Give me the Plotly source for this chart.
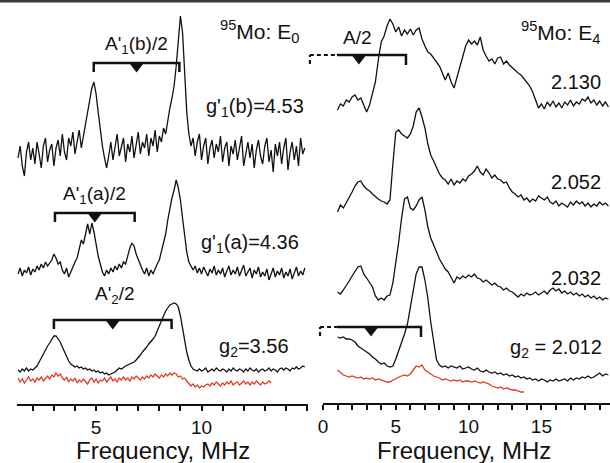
import plotly.graph_objects as go

# ---------------- data (heights in arbitrary stacked units) ----------------
# Left panel (95Mo: E0), sampled every 0.1 MHz
left_f0, left_step = 1.3, 0.1
left_b = [246, 258, 238, 228, 252, 262, 244, 256,
          240, 262, 250, 236, 258, 266, 242, 254, 260, 238,
          256, 264, 248, 270, 252, 244, 266, 258, 272, 250,
          262, 274, 256, 268,
          278, 292, 306, 316, 322, 310,
          292, 274, 258, 246, 236, 248,
          262, 244, 256, 270, 248, 258, 266, 242, 260, 252,
          268, 246, 258, 272, 250, 262, 256, 270, 248, 266,
          258, 274, 252, 268, 262, 276,
          270, 284, 296, 306, 318, 338, 362,
          388, 372, 328, 292, 270, 258, 266,
          248, 262, 270, 244, 258, 266, 240, 256, 264, 246,
          260, 252, 268, 242, 256, 262, 238, 258, 250, 264,
          244, 256, 268, 238, 252, 262, 246, 260, 236, 254,
          264, 248, 240, 258, 266, 242, 254, 232, 260, 248,
          262, 240, 256, 266, 234, 252, 262, 244, 258, 238, 266, 250, 256]
left_a = [130, 136, 128, 134, 131, 137, 129, 135,
          132, 138, 134, 140, 136, 142, 138, 141,
          144, 150, 146, 140, 142, 134, 130, 136, 127, 132,
          138, 142, 146, 156, 164, 160, 170, 180, 170, 181,
          172, 158, 148, 140, 132, 128, 134, 130, 136, 132,
          138, 134, 140, 136, 142, 140, 148, 156, 161, 158,
          150, 144, 138, 134, 130, 136, 128, 134, 130, 136,
          140, 144, 152, 160, 170, 184, 196, 206, 214, 224,
          216, 204, 186, 168, 152, 142, 138, 134, 138, 131,
          136, 130, 137, 132, 128, 135, 131, 138, 129, 134,
          130, 136, 127, 133, 138, 129, 134, 130, 137, 128,
          133, 139, 128, 132, 136, 126, 134, 130, 137, 127,
          132, 128, 135, 124, 131, 136, 127, 133, 129, 136,
          126, 132, 128, 135, 125, 131, 137, 128, 133, 129, 136]
left_g2 = [34, 32, 35, 33, 36, 33, 35, 34,
           36, 38, 42, 46, 51, 55, 58, 61,
           64, 68, 68, 65, 62, 57, 52, 48, 43, 40,
           38, 37, 38, 36, 37, 35, 36, 34, 35, 33,
           34, 32, 33, 31, 32, 30, 31, 29, 30, 31,
           32, 34, 36, 35, 37, 38, 39, 40, 41, 42,
           44, 46, 49, 52, 54, 57, 60, 62, 65, 68,
           73, 77, 82, 88, 93, 96, 99, 100, 101, 100,
           97, 88, 76, 62, 52, 44, 38, 35, 34, 33,
           35, 33, 34, 36, 32, 34, 35, 33, 36, 34,
           33, 35, 34, 32, 35, 33, 36, 34, 33, 35,
           34, 32, 35, 33, 36, 34, 33, 35, 32, 34,
           35, 33, 34, 36, 33, 35, 34, 32, 35, 36,
           34, 36, 35, 33, 36, 35, 37, 35, 36, 38, 37]
left_red = [26, 22, 25, 21, 24, 27, 23, 25, 22, 26,
            24, 27, 23, 26, 28, 25, 29, 27, 31, 28,
            30, 26, 24, 27, 22, 25, 23, 26, 21, 24,
            22, 25, 23, 20, 24, 26, 22, 25, 21, 24,
            23, 26, 22, 24, 27, 23, 25, 22, 26, 24,
            27, 24, 26, 23, 27, 25, 28, 26, 24, 27,
            25, 28, 26, 29, 27, 30, 28, 26, 29, 27,
            30, 28, 31, 29, 31, 30, 27, 28, 25, 26,
            23, 21, 18, 20, 17, 19, 16, 18, 17, 19,
            20, 18, 21, 19, 22, 20, 18, 21, 19, 22,
            20, 23, 19, 21, 22, 19, 21, 23, 20, 22,
            19, 22, 20, 23, 21, 19, 22, 20, 21, 23, 21]

# Right panel (95Mo: E4), sampled every 0.2 MHz
right_f0, right_step = 1.0, 0.2
right_2130 = [294, 300, 298, 304, 302, 307, 309, 304, 306, 299, 292, 299, 310, 322, 344,
              362, 368, 378, 385, 380, 372, 377, 368, 374, 370, 375, 369, 374, 376, 365,
              358, 352, 350, 346, 343, 338, 331, 324, 331, 322, 316, 326, 336, 346, 358,
              364, 360, 363, 359, 367, 354, 348, 343, 345, 340, 346, 347, 340, 343, 339,
              336, 334, 331, 329, 325, 322, 318, 312, 303, 296, 300, 295, 302, 298, 303,
              297, 301, 296, 302, 299, 304, 298, 302, 300, 305, 303, 307, 301, 304, 299,
              303, 298, 302, 297]
right_2052 = [192, 199, 196, 201, 206, 212, 218, 222, 223, 218, 215, 213, 210, 207, 205,
              203, 202, 200, 204, 240, 272, 274, 270, 268, 266, 270, 278, 292, 296, 287,
              276, 260, 249, 243, 237, 230, 226, 224, 220, 225, 219, 223, 221, 225, 223,
              228, 230, 233, 238, 232, 229, 235, 231, 226, 229, 225, 224, 221, 222, 216,
              212, 210, 207, 209, 204, 206, 202, 205, 203, 208, 206, 204, 207, 202, 200,
              203, 198, 201, 199, 197, 202, 199, 203, 200, 202, 198, 201, 197, 200, 198,
              202, 199, 201, 198]
right_2032 = [112, 110, 114, 118, 123, 128, 132, 137, 138, 130, 126, 122, 117, 108, 104,
              106, 104, 108, 109, 121, 140, 162, 186, 205, 207, 196, 194, 198, 204, 207,
              194, 177, 166, 159, 151, 145, 140, 135, 132, 126, 121, 127, 125, 128, 126,
              129, 127, 130, 126, 125, 122, 124, 121, 119, 121, 118, 117, 114, 116, 113,
              112, 109, 107, 110, 108, 111, 109, 110, 112, 109, 111, 113, 110, 114, 116,
              113, 115, 111, 113, 110, 112, 109, 111, 108, 110, 107, 109, 106, 108, 105,
              107, 104, 106, 105]
right_2012 = [67, 66, 67, 65, 65, 64, 62, 58, 56, 54, 52, 50, 47, 45, 42,
              40, 41, 38, 37, 38, 45, 53, 61, 70, 80, 97, 114, 130, 137, 137,
              124, 106, 82, 61, 44, 39, 37, 38, 36, 38, 37, 36, 38, 35, 36,
              37, 35, 34, 36, 33, 32, 34, 32, 31, 32, 30, 31, 29, 30, 28,
              29, 27, 28, 26, 27, 25, 26, 24, 25, 23, 25, 24, 22, 24, 23,
              25, 23, 24, 25, 23, 26, 24, 26, 25, 27, 26, 28, 26, 27, 29,
              31, 28, 30, 29]
right_red = [34, 31, 29, 28, 27, 28, 27, 26, 27, 25, 26, 25, 26, 24, 25,
             24, 23, 22, 22, 24, 25, 27, 28, 29, 28, 30, 34, 38, 37, 39,
             34, 32, 30, 28, 27, 26, 24, 25, 24, 23, 24, 23, 24, 22, 23,
             23, 22, 23, 22, 21, 22, 21, 20, 18, 17, 16, 17, 15, 16, 15,
             14, 14, 13, 12, 12]

# Hyperfine brackets: (left end, right end, marker position, height)
left_brackets = [(4.89, 8.95, 6.92, 341), (3.05, 6.83, 4.94, 191), (3.0, 8.58, 5.79, 84)]
right_brackets = [(-0.9, 0.96, 5.7, 2.47, 349), (-0.2, 0.96, 6.73, 3.3, 77)]

left_major = [5, 10]
left_minor = list(range(2, 16))
right_major = [0, 5, 10, 15]
right_minor = list(range(0, 20))

FONT = "Liberation Sans, Arial, sans-serif"
BLACK = "#111111"
RED = "#e2391f"


def grid(f0, step, vals):
    return [round(f0 + i * step, 3) for i in range(len(vals))]


fig = go.Figure()

for vals in (left_b, left_a, left_g2):
    fig.add_trace(go.Scatter(x=grid(left_f0, left_step, vals), y=vals, mode="lines",
                             line=dict(color=BLACK, width=1.3), xaxis="x", yaxis="y",
                             showlegend=False, hoverinfo="skip"))
fig.add_trace(go.Scatter(x=grid(left_f0, left_step, left_red), y=left_red, mode="lines",
                         line=dict(color=RED, width=1.3), xaxis="x", yaxis="y",
                         showlegend=False, hoverinfo="skip"))

for vals in (right_2130, right_2052, right_2032, right_2012):
    fig.add_trace(go.Scatter(x=grid(right_f0, right_step, vals), y=vals, mode="lines",
                             line=dict(color=BLACK, width=1.3), xaxis="x2", yaxis="y2",
                             showlegend=False, hoverinfo="skip"))
fig.add_trace(go.Scatter(x=grid(right_f0, right_step, right_red), y=right_red, mode="lines",
                         line=dict(color=RED, width=1.3), xaxis="x2", yaxis="y2",
                         showlegend=False, hoverinfo="skip"))

TICK = 9
for x0, x1, xm, h in left_brackets:
    fig.add_trace(go.Scatter(x=[x0, x0, x1, x1], y=[h - TICK, h, h, h - TICK], mode="lines",
                             line=dict(color=BLACK, width=2.5), xaxis="x", yaxis="y",
                             showlegend=False, hoverinfo="skip"))
    fig.add_trace(go.Scatter(x=[xm], y=[h - 3], mode="markers",
                             marker=dict(symbol="triangle-down", size=13, color=BLACK),
                             xaxis="x", yaxis="y", showlegend=False, hoverinfo="skip"))
for xd, xs, x1, xm, h in right_brackets:
    fig.add_trace(go.Scatter(x=[xd, xd, None, xd, xs], y=[h - TICK, h, None, h, h], mode="lines",
                             line=dict(color=BLACK, width=2.2, dash="4px,3px"), xaxis="x2", yaxis="y2",
                             showlegend=False, hoverinfo="skip"))
    fig.add_trace(go.Scatter(x=[xs, x1, x1], y=[h, h, h - TICK - 1], mode="lines",
                             line=dict(color=BLACK, width=2.5), xaxis="x2", yaxis="y2",
                             showlegend=False, hoverinfo="skip"))
    fig.add_trace(go.Scatter(x=[xm], y=[h - 3], mode="markers",
                             marker=dict(symbol="triangle-down", size=13, color=BLACK),
                             xaxis="x2", yaxis="y2", showlegend=False, hoverinfo="skip"))

ydom = [59 / 463, 1.0]
axis_common = dict(ticks="outside", ticklen=5, tickwidth=1.5, tickcolor=BLACK,
                   showgrid=False, zeroline=False,
                   tickfont=dict(family=FONT, size=19, color=BLACK))
fig.update_layout(
    width=610, height=463, margin=dict(l=0, r=0, t=0, b=0),
    paper_bgcolor="white", plot_bgcolor="white",
    xaxis=dict(domain=[17 / 610, 308 / 610], range=[1.25, 15.05], anchor="y",
               showline=True, linecolor=BLACK, linewidth=2,
               tickmode="array", tickvals=left_major,
               minor=dict(tickvals=left_minor, ticks="outside", ticklen=5, tickwidth=1.5,
                          tickcolor=BLACK),
               **axis_common),
    xaxis2=dict(domain=[308.4 / 610, 1.0], range=[-1.0, 19.71], anchor="y2",
                showline=False,
                tickmode="array", tickvals=right_major,
                minor=dict(tickvals=right_minor, ticks="outside", ticklen=5, tickwidth=1.5,
                           tickcolor=BLACK),
                **axis_common),
    yaxis=dict(domain=ydom, range=[0, 404], visible=False, anchor="x"),
    yaxis2=dict(domain=ydom, range=[0, 404], visible=False, anchor="x2"),
)

# right-panel axis line starting at 0 MHz
fig.add_shape(type="line", xref="x2", yref="paper", x0=0, x1=19.71,
              y0=59 / 463, y1=59 / 463, line=dict(color=BLACK, width=2))
# top border
fig.add_shape(type="line", xref="paper", yref="paper", x0=0, x1=1, y0=1 - 1.2 / 463,
              y1=1 - 1.2 / 463, line=dict(color="#3a3a3a", width=2.5))

def txt(text, x, y, xa, ya, size=20, anchor="center"):
    fig.add_annotation(text=text, x=x, y=y, xref=xa, yref=ya, showarrow=False,
                       xanchor=anchor, yanchor="middle",
                       font=dict(family=FONT, size=size, color=BLACK))

txt("<sup>95</sup>Mo: E<sub>0</sub>", 14.72, 373, "x", "y", 21, "right")
txt("A'<sub>1</sub>(b)/2", 6.92, 359, "x", "y", 19)
txt("g'<sub>1</sub>(b)=4.53", 14.95, 297, "x", "y", 20, "right")
txt("A'<sub>1</sub>(a)/2", 4.94, 209, "x", "y", 19)
txt("g'<sub>1</sub>(a)=4.36", 14.72, 161, "x", "y", 20, "right")
txt("A'<sub>2</sub>/2", 5.88, 109, "x", "y", 19)
txt("g<sub>2</sub>=3.56", 14.25, 57, "x", "y", 20, "right")

txt("<sup>95</sup>Mo: E<sub>4</sub>", 19.16, 372, "x2", "y2", 21, "right")
txt("A/2", 2.4, 367, "x2", "y2", 19)
txt("2.130", 19.23, 322, "x2", "y2", 20, "right")
txt("2.052", 19.23, 222, "x2", "y2", 20, "right")
txt("2.032", 19.23, 126, "x2", "y2", 20, "right")
txt("g<sub>2</sub> = 2.012", 19.3, 56, "x2", "y2", 20, "right")

txt("Frequency, MHz", 163 / 610, (463 - 450) / 463, "paper", "paper", 24)
txt("Frequency, MHz", 464 / 610, (463 - 450) / 463, "paper", "paper", 24)

fig.write_html("out.html", config={"displayModeBar": False},
               post_script="document.body.style.margin='0';document.body.style.overflow='hidden';")
